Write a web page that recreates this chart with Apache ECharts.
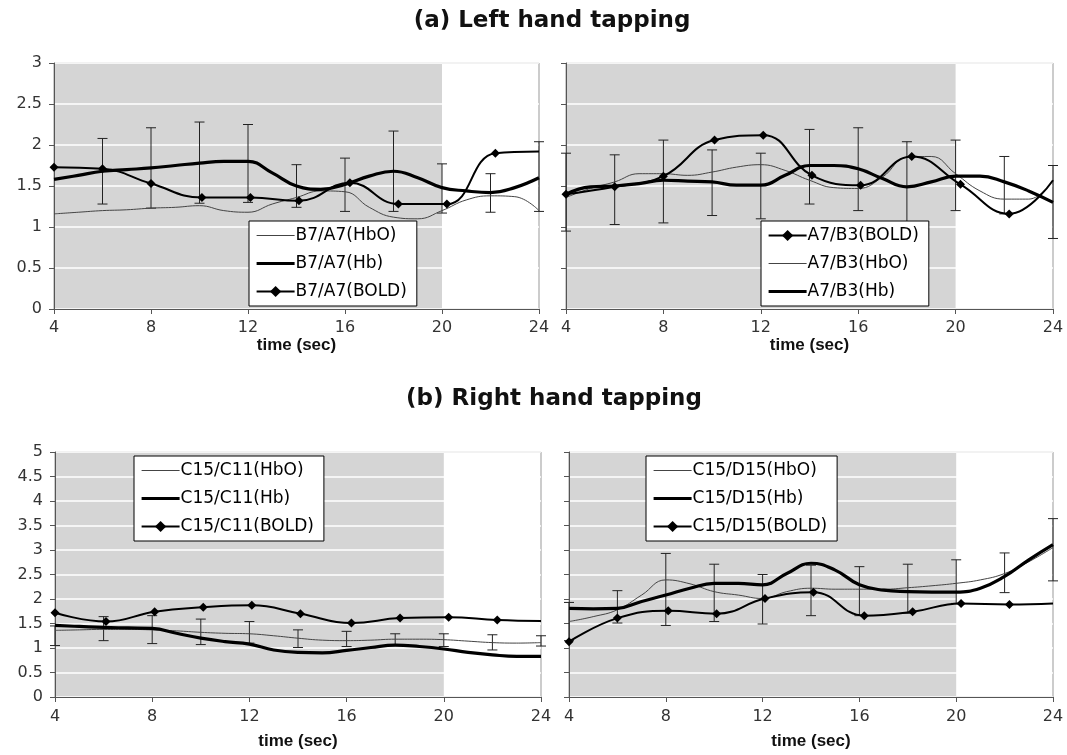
<!DOCTYPE html>
<html>
<head>
<meta charset="utf-8">
<script src="https://cdn.jsdelivr.net/npm/echarts@6/dist/echarts.min.js"></script>
<style>html,body{margin:0;padding:0;background:#fff}#c{width:1067px;height:755px}</style>
</head>
<body>
<div id="c"></div>
<script>
// ---------- data ----------
const TITLES = ['(a) Left hand tapping', '(b) Right hand tapping'];
const X_TICKS = [4, 8, 12, 16, 20, 24];
const SHADE = [[4, 20]];
const T = [4,5,6,7,8,9,10,11,12,13,14,15,16,17,18,19,20,21,22,23,24];

// Panel 1: B7/A7
const P1_NAMES = ['B7/A7(HbO)', 'B7/A7(Hb)', 'B7/A7(BOLD)'];
const P1_HBO = [1.16,1.18,1.20,1.21,1.23,1.24,1.26,1.20,1.18,1.28,1.36,1.44,1.43,1.24,1.12,1.10,1.20,1.33,1.38,1.37,1.20];
const P1_HB  = [1.58,1.63,1.68,1.70,1.72,1.75,1.78,1.80,1.80,1.66,1.50,1.46,1.52,1.62,1.68,1.60,1.48,1.44,1.42,1.48,1.60];
const P1_T_BOLD = [4,6,8,10.1,12.1,14.1,16.2,18.2,20.2,22.2,24];
const P1_BOLD   = [1.73,1.71,1.53,1.36,1.36,1.32,1.54,1.28,1.28,1.90,1.92];
const P1_ERR_T  = [6,8,10,12,14,16,18,20,22,24];
const P1_ERR_LO = [1.28,1.23,1.29,1.30,1.24,1.19,1.19,1.17,1.18,1.19];
const P1_ERR_HI = [2.08,2.21,2.28,2.25,1.76,1.84,2.17,1.77,1.65,2.04];

// Panel 2: A7/B3
const P2_NAMES = ['A7/B3(BOLD)', 'A7/B3(HbO)', 'A7/B3(Hb)'];
const P2_HBO = [1.36,1.47,1.55,1.65,1.65,1.63,1.67,1.73,1.76,1.69,1.57,1.48,1.47,1.61,1.85,1.86,1.65,1.44,1.34,1.34,1.57];
const P2_HB  = [1.40,1.49,1.50,1.53,1.57,1.56,1.55,1.51,1.51,1.63,1.75,1.75,1.71,1.59,1.49,1.55,1.62,1.62,1.55,1.44,1.30];
const P2_T_BOLD = [4,6,8,10.1,12.1,14.1,16.1,18.2,20.2,22.2,24];
const P2_BOLD   = [1.40,1.49,1.62,2.06,2.12,1.63,1.51,1.86,1.52,1.16,1.57];
const P2_ERR_T  = [4,6,8,10,12,14,16,18,20,22,24];
const P2_ERR_LO = [0.95,1.03,1.05,1.14,1.10,1.28,1.20,0.95,1.20,1.16,0.86];
const P2_ERR_HI = [1.90,1.88,2.06,1.94,1.90,2.19,2.21,2.04,2.06,1.86,1.75];

// Panel 3: C15/C11
const P3_NAMES = ['C15/C11(HbO)', 'C15/C11(Hb)', 'C15/C11(BOLD)'];
const P3_HBO = [1.36,1.37,1.38,1.38,1.37,1.35,1.32,1.30,1.29,1.25,1.20,1.16,1.15,1.16,1.18,1.18,1.17,1.14,1.11,1.10,1.11];
const P3_HB  = [1.46,1.44,1.42,1.41,1.40,1.30,1.20,1.13,1.08,0.96,0.91,0.90,0.95,1.01,1.06,1.03,0.98,0.91,0.86,0.83,0.83];
const P3_T_BOLD = [4,6.1,8.1,10.1,12.1,14.1,16.2,18.2,20.2,22.2,24];
const P3_BOLD   = [1.72,1.54,1.74,1.83,1.87,1.70,1.51,1.61,1.63,1.57,1.55];
const P3_ERR_T  = [4,6,8,10,12,14,16,18,20,22,24];
const P3_ERR_LO = [1.05,1.15,1.09,1.07,1.10,1.01,1.03,1.07,1.03,0.96,1.04];
const P3_ERR_HI = [1.45,1.64,1.66,1.59,1.54,1.37,1.34,1.29,1.29,1.27,1.25];

// Panel 4: C15/D15
const P4_NAMES = ['C15/D15(HbO)', 'C15/D15(Hb)', 'C15/D15(BOLD)'];
const P4_HBO = [1.54,1.64,1.78,2.08,2.39,2.31,2.15,2.08,2.01,2.15,2.22,2.20,2.20,2.20,2.23,2.27,2.32,2.39,2.52,2.76,3.05];
const P4_HB  = [1.81,1.80,1.81,1.95,2.08,2.22,2.32,2.32,2.29,2.52,2.73,2.59,2.29,2.18,2.15,2.14,2.14,2.22,2.46,2.80,3.11];
const P4_T_BOLD = [4,6,8.1,10.1,12.1,14.1,16.2,18.2,20.2,22.2,24];
const P4_BOLD   = [1.13,1.61,1.76,1.70,2.01,2.14,1.66,1.74,1.91,1.89,1.91];
const P4_ERR_T  = [4,6,8,10,12,14,16,18,20,22,24];
const P4_ERR_LO = [1.15,1.51,1.46,1.54,1.49,1.66,1.66,1.71,1.91,2.13,2.37];
const P4_ERR_HI = [1.93,2.17,2.93,2.71,2.50,2.69,2.66,2.71,2.80,2.94,3.64];

// ---------- layout ----------
const GRIDS = [
  {left: 54,  top: 63,  width: 485, height: 246, ymax: 3, labels: true},
  {left: 566, top: 63,  width: 487, height: 246, ymax: 3, labels: false},
  {left: 55,  top: 452, width: 486, height: 245, ymax: 5, labels: true},
  {left: 569, top: 452, width: 484, height: 245, ymax: 5, labels: false}
];
const LEGENDS = [
  {left: 249, top: 221},
  {left: 761, top: 221},
  {left: 134, top: 456},
  {left: 646, top: 456}
];
const FONT = '"DejaVu Sans", "Liberation Sans", Arial, sans-serif';
const HB_WIDTH = 3.2;

const panels = [
  {names: P1_NAMES, hbo: P1_HBO, hb: P1_HB, tb: P1_T_BOLD, bold: P1_BOLD, et: P1_ERR_T, lo: P1_ERR_LO, hi: P1_ERR_HI, hboName: P1_NAMES[0], hbName: P1_NAMES[1], boldName: P1_NAMES[2]},
  {names: P2_NAMES, hbo: P2_HBO, hb: P2_HB, tb: P2_T_BOLD, bold: P2_BOLD, et: P2_ERR_T, lo: P2_ERR_LO, hi: P2_ERR_HI, hboName: P2_NAMES[1], hbName: P2_NAMES[2], boldName: P2_NAMES[0]},
  {names: P3_NAMES, hbo: P3_HBO, hb: P3_HB, tb: P3_T_BOLD, bold: P3_BOLD, et: P3_ERR_T, lo: P3_ERR_LO, hi: P3_ERR_HI, hboName: P3_NAMES[0], hbName: P3_NAMES[1], boldName: P3_NAMES[2]},
  {names: P4_NAMES, hbo: P4_HBO, hb: P4_HB, tb: P4_T_BOLD, bold: P4_BOLD, et: P4_ERR_T, lo: P4_ERR_LO, hi: P4_ERR_HI, hboName: P4_NAMES[0], hbName: P4_NAMES[1], boldName: P4_NAMES[2]}
];

function shadeItem(params, api) {
  const cs = params.coordSys;
  const x0 = api.coord([api.value(0), 0])[0];
  const x1 = api.coord([api.value(1), 0])[0];
  return {type: 'rect', shape: {x: x0, y: cs.y, width: x1 - x0, height: cs.height},
          style: {fill: '#d5d5d5'}};
}
function errItem(params, api) {
  const x = api.value(0);
  const p1 = api.coord([x, api.value(1)]);
  const p2 = api.coord([x, api.value(2)]);
  const w = 5;
  const st = {stroke: '#222', lineWidth: 1};
  return {type: 'group', children: [
    {type: 'line', shape: {x1: p1[0], y1: p1[1], x2: p2[0], y2: p2[1]}, style: st},
    {type: 'line', shape: {x1: p1[0]-w, y1: p1[1], x2: p1[0]+w, y2: p1[1]}, style: st},
    {type: 'line', shape: {x1: p2[0]-w, y1: p2[1], x2: p2[0]+w, y2: p2[1]}, style: st}
  ]};
}

function legendItem(p, n) {
  if (n === p.boldName) return {name: n, lineStyle: {width: 2, color: '#000'}};
  if (n === p.hbName) return {name: n, itemStyle: {opacity: 0}, lineStyle: {width: HB_WIDTH, color: '#000'}};
  return {name: n, itemStyle: {opacity: 0}, lineStyle: {width: 1, color: '#444'}};
}

const grid = [], xAxis = [], yAxis = [], legend = [], series = [];
GRIDS.forEach((g, i) => {
  grid.push({left: g.left, top: g.top, width: g.width, height: g.height, z: -2,
             show: true, backgroundColor: '#fff', borderColor: '#999', borderWidth: 1});
  const isTop = i < 2;
  xAxis.push({gridIndex: i, type: 'value', min: 4, max: 24, interval: 4, z: 1,
    name: 'time (sec)', nameLocation: 'middle', nameGap: isTop ? 26 : 36,
    nameTextStyle: {fontFamily: '"Liberation Sans", Arial, sans-serif', fontWeight: 'bold', fontSize: 17, color: '#111'},
    axisLine: {lineStyle: {color: '#555', width: 1}},
    axisTick: {show: true, inside: false, length: 5, lineStyle: {color: '#555'}},
    axisLabel: {fontFamily: FONT, fontSize: 16, color: '#333', margin: isTop ? 11 : 12},
    splitLine: {show: false}});
  yAxis.push({gridIndex: i, type: 'value', min: 0, max: g.ymax, interval: 0.5, z: 1,
    axisLine: {show: true, lineStyle: {color: '#555', width: 1}},
    axisTick: {show: true, inside: false, length: 5, lineStyle: {color: '#555'}},
    axisLabel: {show: g.labels, fontFamily: FONT, fontSize: 16, color: '#333', margin: 12},
    splitLine: {show: true, lineStyle: {color: '#fff', width: 1.5}}});
  const p = panels[i];
  legend.push({show: true, orient: 'vertical', left: LEGENDS[i].left, top: LEGENDS[i].top,
    data: p.names.map(n => legendItem(p, n)),
    selectedMode: false, backgroundColor: '#fff', borderColor: '#000', borderWidth: 1,
    padding: [6, 10, 6, 6], itemGap: 11, itemWidth: 38, itemHeight: 14, z: 10,
    textStyle: {fontFamily: FONT, fontSize: 17, color: '#000', padding: [0, 0, 0, -4]}});
  series.push({type: 'custom', xAxisIndex: i, yAxisIndex: i, z: 0, silent: true,
    renderItem: shadeItem, data: SHADE, encode: {x: [0, 1]}});
  series.push({name: p.hboName, type: 'line', xAxisIndex: i, yAxisIndex: i, z: 2,
    data: T.map((t, k) => [t, p.hbo[k]]), smooth: 0.45, symbol: 'none',
    lineStyle: {color: '#444', width: 1}, itemStyle: {color: '#444'}});
  series.push({name: p.hbName, type: 'line', xAxisIndex: i, yAxisIndex: i, z: 3,
    data: T.map((t, k) => [t, p.hb[k]]), smooth: 0.45, symbol: 'none',
    lineStyle: {color: '#000', width: HB_WIDTH}, itemStyle: {color: '#000'}});
  series.push({name: p.boldName, type: 'line', xAxisIndex: i, yAxisIndex: i, z: 4,
    data: p.tb.map((t, k) => k === p.tb.length - 1 ? {value: [t, p.bold[k]], symbol: 'none'} : [t, p.bold[k]]),
    smooth: 0.45, symbol: 'diamond', symbolSize: 9, showAllSymbol: true,
    lineStyle: {color: '#000', width: 2}, itemStyle: {color: '#000'}});
  series.push({type: 'custom', xAxisIndex: i, yAxisIndex: i, z: 2, silent: true, clip: false,
    renderItem: errItem, data: p.et.map((t, k) => [t, p.lo[k], p.hi[k]]), encode: {x: 0, y: [1, 2]}});
});

const chart = echarts.init(document.getElementById('c'), null, {renderer: 'canvas'});
chart.setOption({
  animation: false,
  backgroundColor: '#fff',
  graphic: [
    {type: 'text', x: 552, y: 21, style: {text: TITLES[0], textAlign: 'center', textVerticalAlign: 'middle',
      font: 'bold 23px "DejaVu Sans", "Liberation Sans", Arial, sans-serif', fill: '#111'}},
    {type: 'text', x: 554, y: 399, style: {text: TITLES[1], textAlign: 'center', textVerticalAlign: 'middle',
      font: 'bold 23px "DejaVu Sans", "Liberation Sans", Arial, sans-serif', fill: '#111'}}
  ],
  grid, xAxis, yAxis, legend, series
});
</script>
</body>
</html>
